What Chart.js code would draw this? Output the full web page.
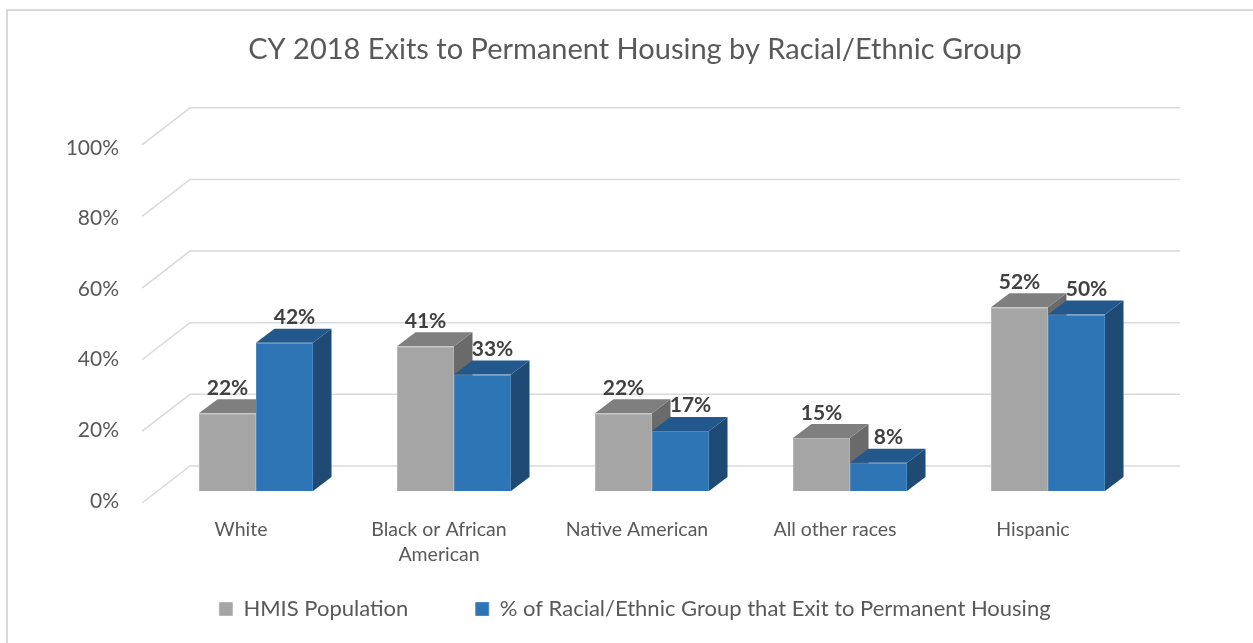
<!DOCTYPE html>
<html>
<head>
<meta charset="utf-8">
<script src="https://cdn.jsdelivr.net/npm/chart.js@4"></script>
<style>
  html, body { margin: 0; padding: 0; background: #fff; overflow: hidden; }
</style>
</head>
<body>
<canvas id="myChart" width="1253" height="643"></canvas>
<script>
const categories = ['White', ['Black or African', 'American'], 'Native American', 'All other races', 'Hispanic'];
const hmisPopulation = [22, 41, 22, 15, 52];
const exitPermanent = [42, 33, 17, 8, 50];
const yTicks = [0, 20, 40, 60, 80, 100];
const seriesNames = ['HMIS Population', '% of Racial/Ethnic Group that Exit to Permanent Housing'];

const FONT = 'Lato, "Open Sans", sans-serif';
const TEXT = '#595959';

// 3D look: depth of each bar, and where the wall / front edge sit relative to the bar plane
const barDepth = { dx: 18.5, dy: -14 };
const wallOffset = { dx: 33, dy: -25 };
const frontOffset = { dx: -15, dy: 12 };
const faceColors = [
  { top: '#7f7f7f', side: '#6a6a6a' },
  { top: '#22588c', side: '#1e4a74' }
];
const labelShift = [0, 10];

const framePlugin = {
  id: 'frame',
  beforeDraw(chart) {
    const { ctx, width, height } = chart;
    ctx.save();
    ctx.fillStyle = '#fff';
    ctx.fillRect(0, 0, width, height);
    ctx.strokeStyle = '#d9d9d9';
    ctx.lineWidth = 2;
    ctx.beginPath();
    ctx.moveTo(7, height);
    ctx.lineTo(7, 10);
    ctx.lineTo(width, 10);
    ctx.stroke();
    ctx.restore();
  }
};

const bars3d = {
  id: 'bars3d',
  beforeDatasetsDraw(chart) {
    const { ctx, chartArea: a, scales: { y } } = chart;
    ctx.save();

    // back wall gridlines with the short diagonal on the left
    ctx.strokeStyle = '#d9d9d9';
    ctx.lineWidth = 1.5;
    yTicks.forEach(v => {
      const py = y.getPixelForValue(v);
      const stretch = v / 100 * 5;
      ctx.beginPath();
      ctx.moveTo(a.left + frontOffset.dx, py + frontOffset.dy - stretch);
      ctx.lineTo(a.left + wallOffset.dx, py + wallOffset.dy - stretch);
      ctx.lineTo(a.right + wallOffset.dx, py + wallOffset.dy - stretch);
      ctx.stroke();
    });

    // side and top faces, category by category so the right bar covers the left one
    const metas = [chart.getDatasetMeta(0), chart.getDatasetMeta(1)];
    const { dx, dy } = barDepth;
    for (let i = 0; i < categories.length; i++) {
      metas.forEach((meta, d) => {
        const bar = meta.data[i];
        const left = bar.x - bar.width / 2;
        const right = bar.x + bar.width / 2;
        const top = bar.y;
        const base = bar.base;

        ctx.fillStyle = faceColors[d].side;
        ctx.beginPath();
        ctx.moveTo(right, base);
        ctx.lineTo(right + dx, base + dy);
        ctx.lineTo(right + dx, top + dy);
        ctx.lineTo(right, top);
        ctx.closePath();
        ctx.fill();

        ctx.fillStyle = faceColors[d].top;
        ctx.beginPath();
        ctx.moveTo(left, top);
        ctx.lineTo(left + dx, top + dy);
        ctx.lineTo(right + dx, top + dy);
        ctx.lineTo(right, top);
        ctx.closePath();
        ctx.fill();
      });
    }
    ctx.restore();
  },
  afterDatasetsDraw(chart) {
    const { ctx } = chart;
    ctx.save();
    ctx.font = 'bold 21px ' + FONT;
    ctx.fillStyle = '#404040';
    ctx.textAlign = 'center';
    ctx.textBaseline = 'alphabetic';
    chart.data.datasets.forEach((ds, d) => {
      chart.getDatasetMeta(d).data.forEach((bar, i) => {
        ctx.fillText(ds.data[i] + '%', bar.x + labelShift[d], bar.y + barDepth.dy - 4.5);
      });
    });
    ctx.restore();
  }
};

const ctx = document.getElementById('myChart').getContext('2d');

new Chart(ctx, {
  type: 'bar',
  data: {
    labels: categories,
    datasets: [
      {
        label: seriesNames[0],
        data: hmisPopulation,
        backgroundColor: '#a5a5a5',
        borderColor: '#b5b5b5',
        borderWidth: 1
      },
      {
        label: seriesNames[1],
        data: exitPermanent,
        backgroundColor: '#2e75b6',
        borderColor: '#4a88c2',
        borderWidth: 1
      }
    ]
  },
  options: {
    responsive: false,
    animation: false,
    categoryPercentage: 0.576,
    barPercentage: 1,
    layout: {
      padding: { left: 20, right: 3, top: 10, bottom: 13 }
    },
    plugins: {
      title: {
        display: true,
        text: 'CY 2018 Exits to Permanent Housing by Racial/Ethnic Group',
        color: TEXT,
        font: { family: FONT, size: 29, weight: 'normal' },
        padding: { top: 22, bottom: 71 }
      },
      legend: {
        position: 'bottom',
        labels: {
          color: TEXT,
          font: { family: FONT, size: 22 },
          boxWidth: 13,
          boxHeight: 13,
          padding: 28,
          // extra room after the first entry
          generateLabels(chart) {
            const items = Chart.defaults.plugins.legend.labels.generateLabels(chart);
            items[0].text += '       ';
            return items;
          }
        }
      },
      tooltip: { enabled: false }
    },
    scales: {
      x: {
        grid: { display: false, drawTicks: false },
        border: { display: false },
        ticks: {
          color: TEXT,
          font: { family: FONT, size: 19.5, lineHeight: 1.28 },
          labelOffset: frontOffset.dx,
          padding: 26,
          maxRotation: 0,
          autoSkip: false
        },
        afterFit: s => { s.height = 79; }
      },
      y: {
        min: 0,
        max: 100,
        grid: { display: false, drawTicks: false },
        border: { display: false },
        ticks: {
          stepSize: 20,
          callback: v => v + '%',
          color: TEXT,
          font: { family: FONT, size: 21 },
          padding: 38,
          labelOffset: 10
        },
        afterFit: s => { s.width = 137; }
      },
      yRight: {
        type: 'linear',
        position: 'right',
        grid: { display: false, drawTicks: false },
        border: { display: false },
        ticks: { display: false },
        afterFit: s => { s.width = 103; }
      }
    }
  },
  plugins: [framePlugin, bars3d]
});
</script>
</body>
</html>
